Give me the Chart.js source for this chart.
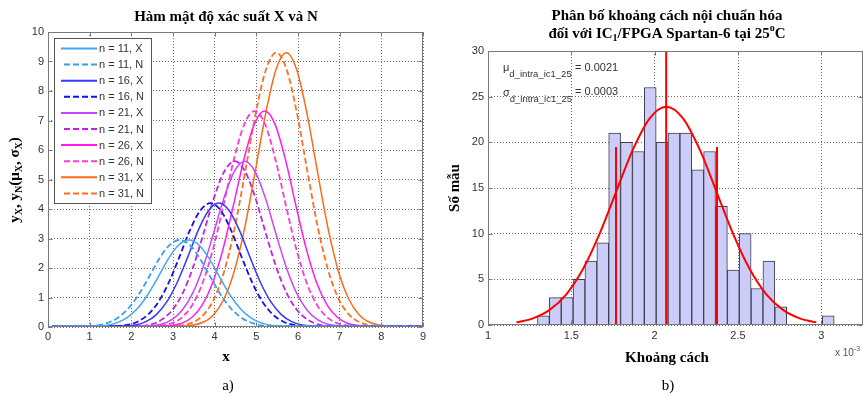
<!DOCTYPE html>
<html><head><meta charset="utf-8">
<script src="https://cdn.jsdelivr.net/npm/chart.js@4.4.0/dist/chart.umd.min.js"></script>
<style>
html,body{margin:0;padding:0;background:#fff;}
#wrap{position:relative;width:866px;height:397px;overflow:hidden;background:#fff;}
#c1{position:absolute;left:0;top:0;width:440px;height:397px;}
#c2{position:absolute;left:440px;top:0;width:426px;height:397px;}
</style></head><body>
<div id="wrap"><canvas id="c1" width="440" height="397"></canvas><canvas id="c2" width="426" height="397"></canvas></div>
<script>
// ---------- Data: left chart (probability density curves) ----------
const pdfLabels = ['n = 11, X','n = 11, N','n = 16, X','n = 16, N','n = 21, X','n = 21, N','n = 26, X','n = 26, N','n = 31, X','n = 31, N'];
const xTicksLeft = [0,1,2,3,4,5,6,7,8,9];
const yTicksLeft = [0,1,2,3,4,5,6,7,8,9,10];

const x11X = [0.1,0.88,1.38,1.63,1.88,2.13,2.38,2.63,2.88,3.13,3.38,3.63,3.88,4.13,4.38,4.63,4.88,5.13,5.38,5.88,9];
const y11X = [0.02,0.03,0.05,0.13,0.30,0.60,1.06,1.66,2.29,2.77,2.95,2.77,2.29,1.66,1.06,0.60,0.30,0.13,0.05,0.03,0.02];
const x11N = [0.1,0.66,1.16,1.41,1.66,1.91,2.16,2.41,2.66,2.91,3.16,3.41,3.66,3.91,4.16,4.41,4.66,4.91,5.16,5.66,9];
const y11N = [0.02,0.03,0.05,0.13,0.30,0.60,1.06,1.66,2.29,2.77,2.95,2.77,2.29,1.66,1.06,0.60,0.30,0.13,0.05,0.03,0.02];
const x16X = [0.1,1.60,2.10,2.35,2.60,2.85,3.10,3.35,3.60,3.85,4.10,4.35,4.60,4.85,5.10,5.35,5.60,5.85,6.10,6.60,9];
const y16X = [0.02,0.03,0.07,0.18,0.42,0.85,1.51,2.36,3.26,3.94,4.20,3.94,3.26,2.36,1.51,0.85,0.42,0.18,0.07,0.03,0.02];
const x16N = [0.1,1.40,1.90,2.15,2.40,2.65,2.90,3.15,3.40,3.65,3.90,4.15,4.40,4.65,4.90,5.15,5.40,5.65,5.90,6.40,9];
const y16N = [0.02,0.03,0.07,0.18,0.42,0.85,1.51,2.36,3.26,3.94,4.20,3.94,3.26,2.36,1.51,0.85,0.42,0.18,0.07,0.03,0.02];
const x21X = [0.1,2.22,2.72,2.97,3.22,3.47,3.72,3.97,4.22,4.47,4.72,4.97,5.22,5.47,5.72,5.97,6.22,6.47,6.72,7.22,9];
const y21X = [0.02,0.03,0.09,0.25,0.57,1.14,2.02,3.16,4.36,5.27,5.62,5.27,4.36,3.16,2.02,1.14,0.57,0.25,0.09,0.03,0.02];
const x21N = [0.1,1.98,2.48,2.73,2.98,3.23,3.48,3.73,3.98,4.23,4.48,4.73,4.98,5.23,5.48,5.73,5.98,6.23,6.48,6.98,9];
const y21N = [0.02,0.03,0.09,0.25,0.57,1.14,2.02,3.16,4.36,5.27,5.62,5.27,4.36,3.16,2.02,1.14,0.57,0.25,0.09,0.03,0.02];
const x26X = [0.1,2.70,3.20,3.45,3.70,3.95,4.20,4.45,4.70,4.95,5.20,5.45,5.70,5.95,6.20,6.45,6.70,6.95,7.20,7.70,9];
const y26X = [0.02,0.03,0.12,0.32,0.74,1.49,2.64,4.12,5.67,6.87,7.32,6.87,5.67,4.12,2.64,1.49,0.74,0.32,0.12,0.03,0.02];
const x26N = [0.1,2.46,2.96,3.21,3.46,3.71,3.96,4.21,4.46,4.71,4.96,5.21,5.46,5.71,5.96,6.21,6.46,6.71,6.96,7.46,9];
const y26N = [0.02,0.03,0.12,0.32,0.74,1.49,2.64,4.12,5.67,6.87,7.32,6.87,5.67,4.12,2.64,1.49,0.74,0.32,0.12,0.03,0.02];
const x31X = [0.1,3.22,3.72,3.97,4.22,4.47,4.72,4.97,5.22,5.47,5.72,5.97,6.22,6.47,6.72,6.97,7.22,7.47,7.72,8.22,9];
const y31X = [0.02,0.03,0.16,0.41,0.94,1.89,3.35,5.24,7.21,8.72,9.30,8.72,7.21,5.24,3.35,1.89,0.94,0.41,0.16,0.03,0.02];
const x31N = [0.1,2.98,3.48,3.73,3.98,4.23,4.48,4.73,4.98,5.23,5.48,5.73,5.98,6.23,6.48,6.73,6.98,7.23,7.48,7.98,9];
const y31N = [0.02,0.03,0.16,0.41,0.94,1.89,3.35,5.24,7.21,8.72,9.30,8.72,7.21,5.24,3.35,1.89,0.94,0.41,0.16,0.03,0.02];

// ---------- Data: right chart (histogram + normal fit) ----------
const binCenters = [1.3326,1.4038,1.4750,1.5462,1.6174,1.6886,1.7598,1.8310,1.9022,1.9734,2.0446,2.1158,2.1870,2.2582,2.3294,2.4006,2.4718,2.5430,2.6142,2.6854,2.7566,2.8278,2.8990,2.9702,3.0414];
const binCounts  = [1,3,3,5,7,9,21,20,19,26,20,21,21,17,19,13,6,10,4,7,2,0,0,0,1];
const fitX = [1.17,1.27,1.37,1.47,1.57,1.67,1.77,1.87,1.97,2.07,2.17,2.27,2.37,2.47,2.57,2.67,2.77,2.87,2.97];
const fitY = [0.29,0.73,1.66,3.36,6.12,10.0,14.64,19.22,22.63,23.9,22.63,19.22,14.64,10.0,6.12,3.36,1.66,0.73,0.29];
const markerX   = [1.768, 2.069, 2.374];   // mu - sigma, mu, mu + sigma
const markerTop = [19.5, 30, 19.5];
const xTicksRight = [1,1.5,2,2.5,3];
const yTicksRight = [0,5,10,15,20,25,30];

// ---------- Styles ----------
const SERIF = '"Liberation Serif","Times New Roman",serif';
const SANS = '"Liberation Sans",Arial,sans-serif';
const pdfColors = ['#42a5f5','#3d9cf0','#3737ff','#1010f0','#cc44ff','#c81eea','#ff1cf0','#ff3ad2','#ff6a14','#ff6f22'];
const pdfDashed = [false,true,false,true,false,true,false,true,false,true];
const GRID = '#6e6e6e';

function pts(xs, ys){ return xs.map((x,i)=>({x:x, y:ys[i]})); }

function rich(ctx, segs, x, y, align){
  let w = 0;
  segs.forEach(s=>{ ctx.font = s[1]; s.w = ctx.measureText(s[0]).width; w += s.w; });
  let cx = align==='center' ? x - w/2 : (align==='right' ? x - w : x);
  ctx.textAlign = 'left';
  segs.forEach(s=>{ ctx.font = s[1]; ctx.fillText(s[0], cx, y + (s[2]||0)); cx += s.w; });
}

const framePlugin = {
  id:'frame',
  afterDatasetsDraw(chart){
    const {ctx, chartArea:a, scales} = chart;
    const L=Math.round(a.left)+0.5, R=Math.round(a.right)-0.5, T=Math.round(a.top)+0.5, B=Math.round(a.bottom)-0.5;
    ctx.save();
    ctx.strokeStyle='#7a7a7a'; ctx.lineWidth=1; ctx.setLineDash([]);
    ctx.strokeRect(L, T, R-L, B-T);
    ctx.beginPath();
    scales.x.ticks.forEach(t=>{ const p=Math.round(scales.x.getPixelForValue(t.value))+0.5; ctx.moveTo(p,B); ctx.lineTo(p,B-4); ctx.moveTo(p,T); ctx.lineTo(p,T+4); });
    scales.y.ticks.forEach(t=>{ const p=Math.round(scales.y.getPixelForValue(t.value))+0.5; ctx.moveTo(L,p); ctx.lineTo(L+4,p); ctx.moveTo(R,p); ctx.lineTo(R-4,p); });
    ctx.stroke();
    ctx.restore();
  }
};

function tickOpts(pad){
  return {
    font:{family:SANS,size:11}, color:'#333', padding:pad, maxRotation:0, autoSkip:false,
    callback: v => String(v)
  };
}
function gridOpts(){
  return { color:GRID, drawTicks:false, lineWidth:1, offset:false, borderDash:[1,2] };
}

// ---------- Left chart ----------
const leftDatasets = [
  [x11X,y11X],[x11N,y11N],[x16X,y16X],[x16N,y16N],[x21X,y21X],[x21N,y21N],[x26X,y26X],[x26N,y26N],[x31X,y31X],[x31N,y31N]
].map((p,i)=>({
  label: pdfLabels[i],
  data: pts(p[0],p[1]),
  borderColor: pdfColors[i],
  borderWidth: pdfDashed[i] ? 1.8 : 1.5,
  borderDash: pdfDashed[i] ? [6,3] : [],
  pointRadius: 0,
  fill: false,
  cubicInterpolationMode: 'monotone'
}));

const leftText = {
  id:'leftText',
  afterDraw(chart){
    const ctx = chart.ctx;
    ctx.save();
    // legend box
    ctx.fillStyle='#fff'; ctx.fillRect(54.5,38.5,97,165);
    ctx.strokeStyle='#555'; ctx.lineWidth=1; ctx.setLineDash([]); ctx.strokeRect(54.5,38.5,97,165);
    chart.data.datasets.forEach((ds,i)=>{
      const y = 48.5 + i*16.1;
      ctx.strokeStyle=ds.borderColor; ctx.lineWidth=2; ctx.setLineDash(ds.borderDash);
      ctx.beginPath(); ctx.moveTo(ds.borderDash.length?64:61, y); ctx.lineTo(97,y); ctx.stroke();
      ctx.setLineDash([]);
      ctx.fillStyle='#333'; ctx.font='11px '+SANS; ctx.textBaseline='middle'; ctx.textAlign='left';
      ctx.fillText(ds.label, 99, y+0.5);
    });
    ctx.textBaseline='alphabetic';
    ctx.fillStyle='#000';
    const B = 'bold 15px '+SERIF, BS = 'bold 10px '+SERIF;
    rich(ctx, [['Hàm mật độ xác suất X và N', B]], 226, 21, 'center');
    rich(ctx, [['x', B]], 226, 361, 'center');
    rich(ctx, [['a)', '15px '+SERIF]], 228, 390, 'center');
    ctx.translate(19, 180); ctx.rotate(-Math.PI/2);
    rich(ctx, [['y',B],['X',BS,3],[', y',B],['N',BS,3],['(μ',B],['X',BS,3],[', σ',B],['X',BS,3],[')',B]], 0, 0, 'center');
    ctx.restore();
  }
};

new Chart(document.getElementById('c1'), {
  type:'line',
  data:{ datasets: leftDatasets },
  options:{
    responsive:false, animation:false, devicePixelRatio:1,
    layout:{ padding:{left:0, right:17, top:32, bottom:0} },
    plugins:{ legend:{display:false}, title:{display:false}, tooltip:{enabled:false} },
    scales:{
      x:{ type:'linear', min:0, max:9,
          afterBuildTicks: s=>{ s.ticks = xTicksLeft.map(v=>({value:v})); },
          ticks: tickOpts(3),
          grid: gridOpts(),
          border:{ display:false, dash:[1,2] },
          afterFit: s=>{ s.height = 70; } },
      y:{ type:'linear', min:0, max:10,
          afterBuildTicks: s=>{ s.ticks = yTicksLeft.map(v=>({value:v})); },
          ticks: tickOpts(4),
          grid: gridOpts(),
          border:{ display:false, dash:[1,2] },
          afterFit: s=>{ s.width = 48; } }
    }
  },
  plugins:[framePlugin, leftText]
});

// ---------- Right chart ----------
const rightDatasets = [
  { type:'bar', label:'Số mẫu', data: pts(binCenters, binCounts),
    backgroundColor:'#ccccf8', borderColor:'#3c3c4c', borderWidth:1,
    barPercentage:1, categoryPercentage:1, order:3 },
  { type:'line', label:'fit', data: pts(fitX, fitY), borderColor:'#ff0000', borderWidth:2,
    pointRadius:0, fill:false, cubicInterpolationMode:'monotone', order:1 }
].concat(markerX.map((mx,i)=>({
    type:'line', label:'m'+i, data:[{x:mx,y:0},{x:mx,y:markerTop[i]}],
    borderColor:'#ff0000', borderWidth:2, pointRadius:0, fill:false, order:2 })));

const rightText = {
  id:'rightText',
  afterDraw(chart){
    const ctx = chart.ctx;
    ctx.save();
    ctx.textBaseline='alphabetic';
    ctx.fillStyle='#000';
    const B = 'bold 15px '+SERIF, BS = 'bold 10px '+SERIF;
    rich(ctx, [['Phân bố khoảng cách nội chuẩn hóa', B]], 227, 20, 'center');
    rich(ctx, [['đối với IC',B],['1',BS,3],['/FPGA Spartan-6 tại 25',B],['o',BS,-7],['C',B]], 227, 38, 'center');
    rich(ctx, [['Khoảng cách', B]], 227, 362, 'center');
    rich(ctx, [['b)', '15px '+SERIF]], 228, 390, 'center');
    ctx.fillStyle='#333';
    rich(ctx, [['μ','11px '+SANS],['d_intra_ic1_25','9.5px '+SANS,6]], 63, 71, 'left');
    rich(ctx, [['= 0.0021','11px '+SANS]], 135, 70.5, 'left');
    rich(ctx, [['σ','11px '+SANS],['d_intra_ic1_25','9.5px '+SANS,6]], 63, 96, 'left');
    rich(ctx, [['= 0.0003','11px '+SANS]], 135, 95, 'left');
    ctx.fillStyle='#555';
    rich(ctx, [['x 10','10px '+SANS],['-3','7px '+SANS,-5]], 395, 356, 'left');
    ctx.fillStyle='#000';
    ctx.translate(19, 188); ctx.rotate(-Math.PI/2);
    rich(ctx, [['Số mẫu', B]], 0, 0, 'center');
    ctx.restore();
  }
};

new Chart(document.getElementById('c2'), {
  type:'line',
  data:{ datasets: rightDatasets },
  options:{
    responsive:false, animation:false, devicePixelRatio:1,
    layout:{ padding:{left:0, right:3, top:51, bottom:0} },
    plugins:{ legend:{display:false}, title:{display:false}, tooltip:{enabled:false} },
    scales:{
      x:{ type:'linear', min:1, max:3.25, offset:false,
          afterBuildTicks: s=>{ s.ticks = xTicksRight.map(v=>({value:v})); },
          ticks: tickOpts(4),
          grid: gridOpts(),
          border:{ display:false, dash:[1,2] },
          afterFit: s=>{ s.height = 72; } },
      y:{ type:'linear', min:0, max:30,
          afterBuildTicks: s=>{ s.ticks = yTicksRight.map(v=>({value:v})); },
          ticks: tickOpts(4),
          grid: gridOpts(),
          border:{ display:false, dash:[1,2] },
          afterFit: s=>{ s.width = 48; } }
    }
  },
  plugins:[framePlugin, rightText]
});
</script>
</body></html>
